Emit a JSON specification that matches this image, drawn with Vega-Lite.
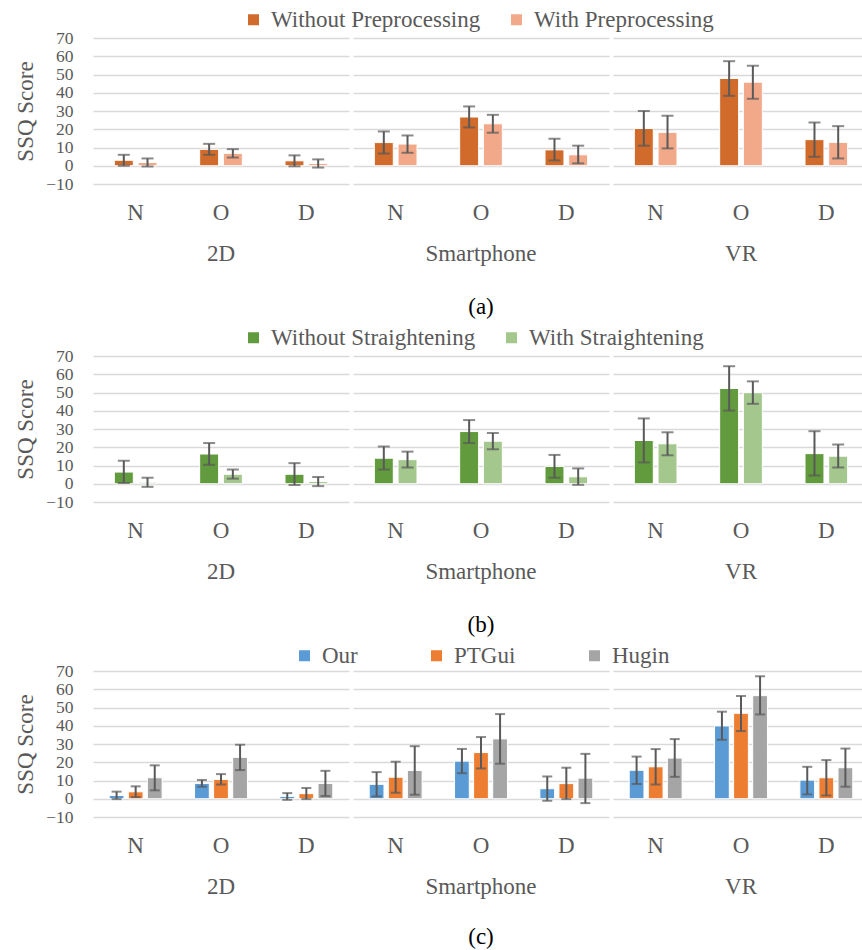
{
  "$schema": "https://vega.github.io/schema/vega-lite/v6.json",
  "padding": {"left": 14, "top": 8, "right": 0, "bottom": 0},
  "config": {
    "font": "Liberation Serif, Times New Roman, DejaVu Serif, serif",
    "view": {"stroke": null},
    "axis": {"labelFont": "Liberation Serif, Times New Roman, DejaVu Serif, serif", "titleFont": "Liberation Serif, Times New Roman, DejaVu Serif, serif", "labelFontSize": 23, "labelColor": "#595959", "titleColor": "#595959", "titleFontSize": 23, "titleFontWeight": "normal", "domain": false, "ticks": false},
    "legend": {"labelFont": "Liberation Serif, Times New Roman, DejaVu Serif, serif", "labelFontSize": 23, "labelColor": "#595959", "symbolType": "square", "symbolSize": 121, "symbolStrokeWidth": 0, "labelOffset": 6, "title": null, "labelLimit": 500},
    "header": {"labelFont": "Liberation Serif, Times New Roman, DejaVu Serif, serif", "labelFontSize": 23, "labelColor": "#595959", "labelOrient": "bottom", "title": null, "labelPadding": 19},
    "title": {"font": "Liberation Serif, Times New Roman, DejaVu Serif, serif", "fontSize": 23, "fontWeight": "normal", "color": "#000000"}
  },
  "spacing": 7,
  "resolve": {"scale": {"color": "independent", "xOffset": "independent"}},
  "vconcat": [
    {
      "title": {"text": "(a)", "orient": "bottom", "anchor": "middle", "frame": "group", "offset": 30, "dx": 388},
      "data": {"values": [
        {"device": "2D", "cond": "N", "method": "Without Preprocessing", "value": 3.0, "lo": 0.0, "hi": 6.0},
        {"device": "2D", "cond": "N", "method": "With Preprocessing", "value": 1.8, "lo": -0.4, "hi": 4.0},
        {"device": "2D", "cond": "O", "method": "Without Preprocessing", "value": 9.0, "lo": 6.0, "hi": 12.0},
        {"device": "2D", "cond": "O", "method": "With Preprocessing", "value": 6.8, "lo": 4.5, "hi": 9.1},
        {"device": "2D", "cond": "D", "method": "Without Preprocessing", "value": 2.7, "lo": -0.3, "hi": 5.7},
        {"device": "2D", "cond": "D", "method": "With Preprocessing", "value": 1.2, "lo": -1.0, "hi": 3.5},
        {"device": "Smartphone", "cond": "N", "method": "Without Preprocessing", "value": 12.7, "lo": 6.7, "hi": 18.8},
        {"device": "Smartphone", "cond": "N", "method": "With Preprocessing", "value": 11.9, "lo": 7.1, "hi": 16.6},
        {"device": "Smartphone", "cond": "O", "method": "Without Preprocessing", "value": 26.7, "lo": 21.0, "hi": 32.5},
        {"device": "Smartphone", "cond": "O", "method": "With Preprocessing", "value": 23.0, "lo": 18.1, "hi": 27.9},
        {"device": "Smartphone", "cond": "D", "method": "Without Preprocessing", "value": 8.7, "lo": 2.9, "hi": 14.8},
        {"device": "Smartphone", "cond": "D", "method": "With Preprocessing", "value": 6.0, "lo": 1.3, "hi": 11.0},
        {"device": "VR", "cond": "N", "method": "Without Preprocessing", "value": 20.4, "lo": 11.0, "hi": 30.0},
        {"device": "VR", "cond": "N", "method": "With Preprocessing", "value": 18.3, "lo": 9.5, "hi": 27.4},
        {"device": "VR", "cond": "O", "method": "Without Preprocessing", "value": 47.8, "lo": 38.3, "hi": 57.3},
        {"device": "VR", "cond": "O", "method": "With Preprocessing", "value": 45.8, "lo": 36.7, "hi": 54.8},
        {"device": "VR", "cond": "D", "method": "Without Preprocessing", "value": 14.3, "lo": 4.9, "hi": 23.7},
        {"device": "VR", "cond": "D", "method": "With Preprocessing", "value": 12.8, "lo": 4.0, "hi": 21.7}
      ]},
      "facet": {"column": {"field": "device", "type": "nominal", "sort": ["2D", "Smartphone", "VR"]}},
      "spacing": 4,
      "spec": {
        "width": 256, "height": 146,
        "encoding": {
          "x": {"field": "cond", "type": "nominal", "sort": ["N", "O", "D"], "scale": {"paddingInner": 0.5, "paddingOuter": 0.25}, "axis": {"title": null, "labelAngle": 0, "labelPadding": 17}},
          "xOffset": {"field": "method", "type": "nominal", "sort": ["Without Preprocessing", "With Preprocessing"], "scale": {"paddingInner": 0.2, "paddingOuter": 0}}
        },
        "layer": [
          {"mark": {"type": "bar", "stroke": "white", "strokeWidth": 1},
           "encoding": {
             "y": {"field": "value", "type": "quantitative", "scale": {"domain": [-10, 70], "nice": false}, "axis": {"title": "SSQ Score", "values": [-10, 0, 10, 20, 30, 40, 50, 60, 70], "labelOverlap": false, "labelFontSize": 17.5, "grid": true, "gridColor": "#D9D9D9", "gridWidth": 1.5, "labelPadding": 20, "titlePadding": 8}},
             "color": {"field": "method", "type": "nominal", "sort": ["Without Preprocessing", "With Preprocessing"], "scale": {"range": ["#D06B2B", "#F2A98A"]}, "legend": {"orient": "none", "direction": "horizontal", "legendX": 149, "legendY": -30, "columnPadding": 24}}
           }},
          {"mark": {"type": "rule", "color": "#595959", "strokeWidth": 2},
           "encoding": {"y": {"field": "lo", "type": "quantitative", "axis": {"title": "SSQ Score", "values": [-10, 0, 10, 20, 30, 40, 50, 60, 70], "labelOverlap": false, "labelFontSize": 17.5, "grid": true, "gridColor": "#D9D9D9", "gridWidth": 1.5, "labelPadding": 20, "titlePadding": 8}}, "y2": {"field": "hi"}}},
          {"mark": {"type": "tick", "color": "#595959", "thickness": 2, "size": 12},
           "encoding": {"y": {"field": "lo", "type": "quantitative", "axis": {"title": "SSQ Score", "values": [-10, 0, 10, 20, 30, 40, 50, 60, 70], "labelOverlap": false, "labelFontSize": 17.5, "grid": true, "gridColor": "#D9D9D9", "gridWidth": 1.5, "labelPadding": 20, "titlePadding": 8}}}},
          {"mark": {"type": "tick", "color": "#595959", "thickness": 2, "size": 12},
           "encoding": {"y": {"field": "hi", "type": "quantitative", "axis": {"title": "SSQ Score", "values": [-10, 0, 10, 20, 30, 40, 50, 60, 70], "labelOverlap": false, "labelFontSize": 17.5, "grid": true, "gridColor": "#D9D9D9", "gridWidth": 1.5, "labelPadding": 20, "titlePadding": 8}}}}
        ]
      }
    },
    {
      "title": {"text": "(b)", "orient": "bottom", "anchor": "middle", "frame": "group", "offset": 30, "dx": 388},
      "data": {"values": [
        {"device": "2D", "cond": "N", "method": "Without Straightening", "value": 6.4, "lo": 0.4, "hi": 12.6},
        {"device": "2D", "cond": "N", "method": "With Straightening", "value": 0.8, "lo": -1.7, "hi": 3.3},
        {"device": "2D", "cond": "O", "method": "Without Straightening", "value": 16.3, "lo": 10.4, "hi": 22.3},
        {"device": "2D", "cond": "O", "method": "With Straightening", "value": 5.2, "lo": 2.8, "hi": 7.8},
        {"device": "2D", "cond": "D", "method": "Without Straightening", "value": 5.2, "lo": -0.7, "hi": 11.3},
        {"device": "2D", "cond": "D", "method": "With Straightening", "value": 1.2, "lo": -1.3, "hi": 3.7},
        {"device": "Smartphone", "cond": "N", "method": "Without Straightening", "value": 14.0, "lo": 7.8, "hi": 20.4},
        {"device": "Smartphone", "cond": "N", "method": "With Straightening", "value": 13.2, "lo": 8.9, "hi": 17.6},
        {"device": "Smartphone", "cond": "O", "method": "Without Straightening", "value": 28.6, "lo": 22.3, "hi": 34.9},
        {"device": "Smartphone", "cond": "O", "method": "With Straightening", "value": 23.3, "lo": 18.9, "hi": 27.8},
        {"device": "Smartphone", "cond": "D", "method": "Without Straightening", "value": 9.5, "lo": 3.3, "hi": 15.8},
        {"device": "Smartphone", "cond": "D", "method": "With Straightening", "value": 3.8, "lo": -0.6, "hi": 8.4},
        {"device": "VR", "cond": "N", "method": "Without Straightening", "value": 23.7, "lo": 11.7, "hi": 35.8},
        {"device": "VR", "cond": "N", "method": "With Straightening", "value": 21.9, "lo": 15.6, "hi": 28.2},
        {"device": "VR", "cond": "O", "method": "Without Straightening", "value": 52.2, "lo": 40.1, "hi": 64.4},
        {"device": "VR", "cond": "O", "method": "With Straightening", "value": 49.9, "lo": 43.8, "hi": 56.1},
        {"device": "VR", "cond": "D", "method": "Without Straightening", "value": 16.5, "lo": 4.5, "hi": 28.8},
        {"device": "VR", "cond": "D", "method": "With Straightening", "value": 15.1, "lo": 8.9, "hi": 21.5}
      ]},
      "facet": {"column": {"field": "device", "type": "nominal", "sort": ["2D", "Smartphone", "VR"]}},
      "spacing": 4,
      "spec": {
        "width": 256, "height": 146,
        "encoding": {
          "x": {"field": "cond", "type": "nominal", "sort": ["N", "O", "D"], "scale": {"paddingInner": 0.5, "paddingOuter": 0.25}, "axis": {"title": null, "labelAngle": 0, "labelPadding": 17}},
          "xOffset": {"field": "method", "type": "nominal", "sort": ["Without Straightening", "With Straightening"], "scale": {"paddingInner": 0.2, "paddingOuter": 0}}
        },
        "layer": [
          {"mark": {"type": "bar", "stroke": "white", "strokeWidth": 1},
           "encoding": {
             "y": {"field": "value", "type": "quantitative", "scale": {"domain": [-10, 70], "nice": false}, "axis": {"title": "SSQ Score", "values": [-10, 0, 10, 20, 30, 40, 50, 60, 70], "labelOverlap": false, "labelFontSize": 17.5, "grid": true, "gridColor": "#D9D9D9", "gridWidth": 1.5, "labelPadding": 20, "titlePadding": 8}},
             "color": {"field": "method", "type": "nominal", "sort": ["Without Straightening", "With Straightening"], "scale": {"range": ["#629A3E", "#A4C78E"]}, "legend": {"orient": "none", "direction": "horizontal", "legendX": 149, "legendY": -30, "columnPadding": 24}}
           }},
          {"mark": {"type": "rule", "color": "#595959", "strokeWidth": 2},
           "encoding": {"y": {"field": "lo", "type": "quantitative", "axis": {"title": "SSQ Score", "values": [-10, 0, 10, 20, 30, 40, 50, 60, 70], "labelOverlap": false, "labelFontSize": 17.5, "grid": true, "gridColor": "#D9D9D9", "gridWidth": 1.5, "labelPadding": 20, "titlePadding": 8}}, "y2": {"field": "hi"}}},
          {"mark": {"type": "tick", "color": "#595959", "thickness": 2, "size": 12},
           "encoding": {"y": {"field": "lo", "type": "quantitative", "axis": {"title": "SSQ Score", "values": [-10, 0, 10, 20, 30, 40, 50, 60, 70], "labelOverlap": false, "labelFontSize": 17.5, "grid": true, "gridColor": "#D9D9D9", "gridWidth": 1.5, "labelPadding": 20, "titlePadding": 8}}}},
          {"mark": {"type": "tick", "color": "#595959", "thickness": 2, "size": 12},
           "encoding": {"y": {"field": "hi", "type": "quantitative", "axis": {"title": "SSQ Score", "values": [-10, 0, 10, 20, 30, 40, 50, 60, 70], "labelOverlap": false, "labelFontSize": 17.5, "grid": true, "gridColor": "#D9D9D9", "gridWidth": 1.5, "labelPadding": 20, "titlePadding": 8}}}}
        ]
      }
    },
    {
      "title": {"text": "(c)", "orient": "bottom", "anchor": "middle", "frame": "group", "offset": 27, "dx": 388},
      "data": {"values": [
        {"device": "2D", "cond": "N", "method": "Our", "value": 1.8, "lo": -0.2, "hi": 3.9},
        {"device": "2D", "cond": "N", "method": "PTGui", "value": 3.8, "lo": 0.9, "hi": 6.8},
        {"device": "2D", "cond": "N", "method": "Hugin", "value": 11.5, "lo": 4.6, "hi": 18.3},
        {"device": "2D", "cond": "O", "method": "Our", "value": 8.4, "lo": 6.6, "hi": 10.3},
        {"device": "2D", "cond": "O", "method": "PTGui", "value": 10.6, "lo": 7.8, "hi": 13.5},
        {"device": "2D", "cond": "O", "method": "Hugin", "value": 22.7, "lo": 15.7, "hi": 29.6},
        {"device": "2D", "cond": "D", "method": "Our", "value": 1.3, "lo": -0.6, "hi": 3.1},
        {"device": "2D", "cond": "D", "method": "PTGui", "value": 2.8, "lo": -0.2, "hi": 5.9},
        {"device": "2D", "cond": "D", "method": "Hugin", "value": 8.4, "lo": 1.5, "hi": 15.3},
        {"device": "Smartphone", "cond": "N", "method": "Our", "value": 7.9, "lo": 1.3, "hi": 14.6},
        {"device": "Smartphone", "cond": "N", "method": "PTGui", "value": 11.8, "lo": 3.3, "hi": 20.3},
        {"device": "Smartphone", "cond": "N", "method": "Hugin", "value": 15.5, "lo": 2.2, "hi": 28.8},
        {"device": "Smartphone", "cond": "O", "method": "Our", "value": 20.6, "lo": 14.0, "hi": 27.3},
        {"device": "Smartphone", "cond": "O", "method": "PTGui", "value": 25.3, "lo": 16.6, "hi": 33.8},
        {"device": "Smartphone", "cond": "O", "method": "Hugin", "value": 32.8, "lo": 19.2, "hi": 46.4},
        {"device": "Smartphone", "cond": "D", "method": "Our", "value": 5.5, "lo": -1.1, "hi": 12.2},
        {"device": "Smartphone", "cond": "D", "method": "PTGui", "value": 8.3, "lo": -0.2, "hi": 17.0},
        {"device": "Smartphone", "cond": "D", "method": "Hugin", "value": 11.3, "lo": -2.4, "hi": 24.6},
        {"device": "VR", "cond": "N", "method": "Our", "value": 15.6, "lo": 8.1, "hi": 23.1},
        {"device": "VR", "cond": "N", "method": "PTGui", "value": 17.5, "lo": 7.8, "hi": 27.2},
        {"device": "VR", "cond": "N", "method": "Hugin", "value": 22.3, "lo": 12.0, "hi": 32.7},
        {"device": "VR", "cond": "O", "method": "Our", "value": 39.9, "lo": 32.3, "hi": 47.7},
        {"device": "VR", "cond": "O", "method": "PTGui", "value": 46.8, "lo": 37.1, "hi": 56.3},
        {"device": "VR", "cond": "O", "method": "Hugin", "value": 56.5, "lo": 46.2, "hi": 67.1},
        {"device": "VR", "cond": "D", "method": "Our", "value": 10.2, "lo": 2.4, "hi": 17.5},
        {"device": "VR", "cond": "D", "method": "PTGui", "value": 11.5, "lo": 1.8, "hi": 21.2},
        {"device": "VR", "cond": "D", "method": "Hugin", "value": 17.0, "lo": 6.6, "hi": 27.5}
      ]},
      "facet": {"column": {"field": "device", "type": "nominal", "sort": ["2D", "Smartphone", "VR"]}},
      "spacing": 4,
      "spec": {
        "width": 256, "height": 146,
        "encoding": {
          "x": {"field": "cond", "type": "nominal", "sort": ["N", "O", "D"], "scale": {"paddingInner": 0.38, "paddingOuter": 0.19}, "axis": {"title": null, "labelAngle": 0, "labelPadding": 17}},
          "xOffset": {"field": "method", "type": "nominal", "sort": ["Our", "PTGui", "Hugin"], "scale": {"paddingInner": 0.226, "paddingOuter": 0}}
        },
        "layer": [
          {"mark": {"type": "bar", "stroke": "white", "strokeWidth": 1},
           "encoding": {
             "y": {"field": "value", "type": "quantitative", "scale": {"domain": [-10, 70], "nice": false}, "axis": {"title": "SSQ Score", "values": [-10, 0, 10, 20, 30, 40, 50, 60, 70], "labelOverlap": false, "labelFontSize": 17.5, "grid": true, "gridColor": "#D9D9D9", "gridWidth": 1.5, "labelPadding": 20, "titlePadding": 8}},
             "color": {"field": "method", "type": "nominal", "sort": ["Our", "PTGui", "Hugin"], "scale": {"range": ["#5B9BD5", "#ED7D31", "#A5A5A5"]}, "legend": {"orient": "none", "direction": "horizontal", "legendX": 200, "legendY": -27, "columnPadding": 67}}
           }},
          {"mark": {"type": "rule", "color": "#595959", "strokeWidth": 2},
           "encoding": {"y": {"field": "lo", "type": "quantitative", "axis": {"title": "SSQ Score", "values": [-10, 0, 10, 20, 30, 40, 50, 60, 70], "labelOverlap": false, "labelFontSize": 17.5, "grid": true, "gridColor": "#D9D9D9", "gridWidth": 1.5, "labelPadding": 20, "titlePadding": 8}}, "y2": {"field": "hi"}}},
          {"mark": {"type": "tick", "color": "#595959", "thickness": 2, "size": 10},
           "encoding": {"y": {"field": "lo", "type": "quantitative", "axis": {"title": "SSQ Score", "values": [-10, 0, 10, 20, 30, 40, 50, 60, 70], "labelOverlap": false, "labelFontSize": 17.5, "grid": true, "gridColor": "#D9D9D9", "gridWidth": 1.5, "labelPadding": 20, "titlePadding": 8}}}},
          {"mark": {"type": "tick", "color": "#595959", "thickness": 2, "size": 10},
           "encoding": {"y": {"field": "hi", "type": "quantitative", "axis": {"title": "SSQ Score", "values": [-10, 0, 10, 20, 30, 40, 50, 60, 70], "labelOverlap": false, "labelFontSize": 17.5, "grid": true, "gridColor": "#D9D9D9", "gridWidth": 1.5, "labelPadding": 20, "titlePadding": 8}}}}
        ]
      }
    }
  ]
}
